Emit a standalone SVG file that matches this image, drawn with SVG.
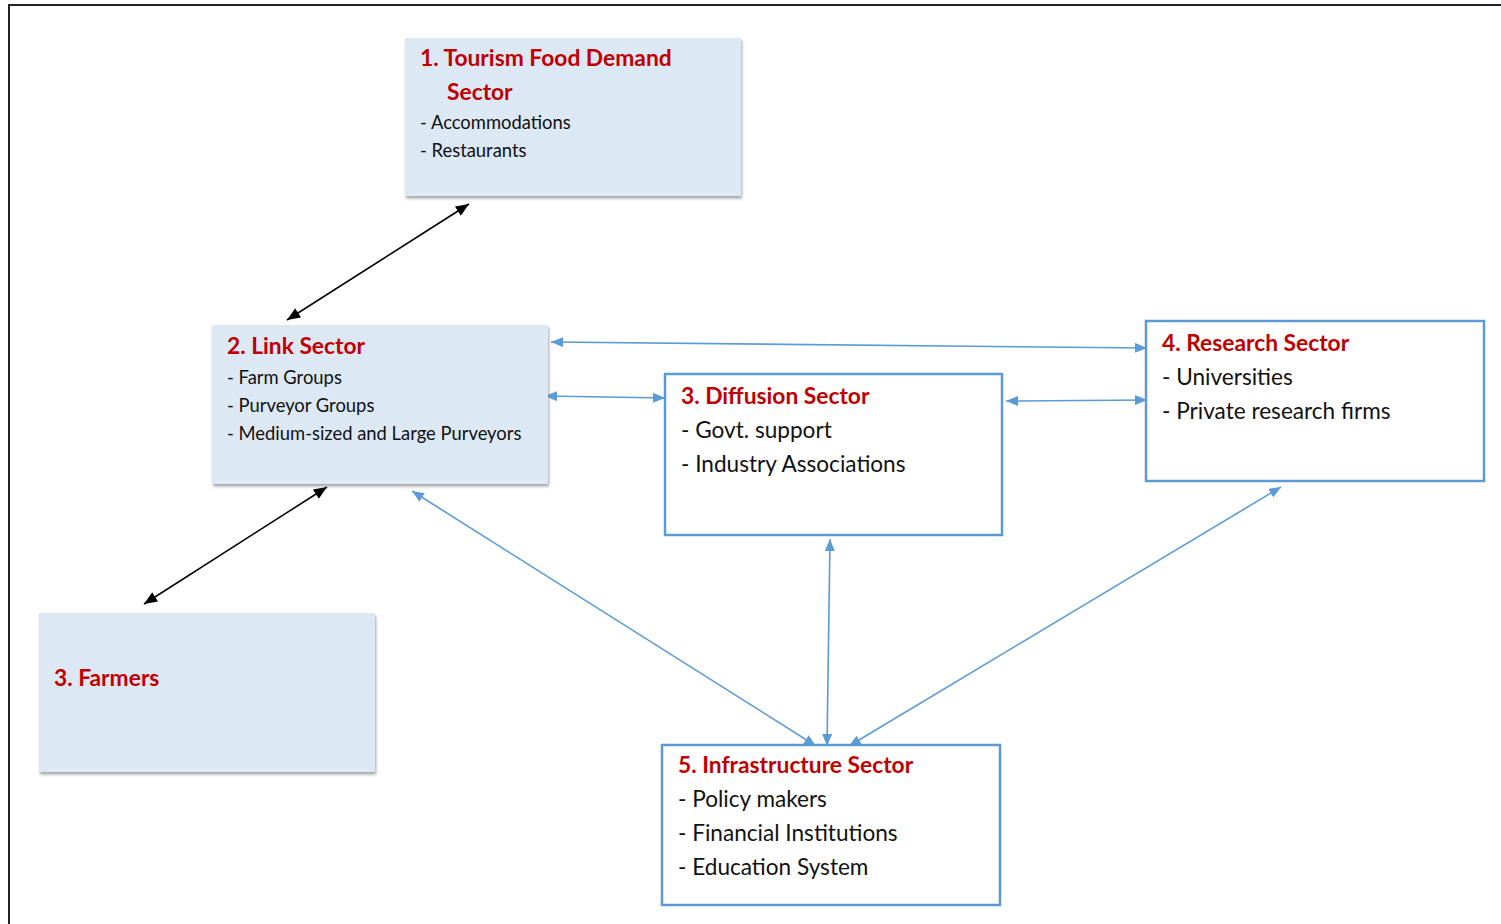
<svg xmlns="http://www.w3.org/2000/svg" width="1501" height="924" viewBox="0 0 1501 924">
  <defs>
    <filter id="shadow" x="-5%" y="-5%" width="110%" height="115%">
      <feDropShadow dx="1" dy="2.5" stdDeviation="1.5" flood-color="#7f7f7f" flood-opacity="0.7"/>
    </filter>
    <marker id="ahBlack" viewBox="0 0 12 10" refX="12" refY="5" markerWidth="14" markerHeight="11" markerUnits="userSpaceOnUse" orient="auto-start-reverse">
      <path d="M0,0 L12,5 L0,10 Z" fill="#000"/>
    </marker>
    <marker id="ahBlue" viewBox="0 0 12 10" refX="12" refY="5" markerWidth="12" markerHeight="10" markerUnits="userSpaceOnUse" orient="auto-start-reverse">
      <path d="M0,0 L12,5 L0,10 Z" fill="#5b9bd5"/>
    </marker>
    <style>
      .shaded { fill: #dde8f5; stroke: none; filter: url(#shadow); }
      .outlined { fill: #fff; stroke: #5b9bd5; stroke-width: 2.5; }
      .title { font-family: Lato, "Liberation Sans", sans-serif; font-weight: bold; fill: #c00000; font-size: 22.8px; }
      .small { font-family: Lato, "Liberation Sans", sans-serif; fill: #111; font-size: 18.4px; }
      .body { font-family: Lato, "Liberation Sans", sans-serif; fill: #111; font-size: 22.6px; }
      .black { stroke: #000; stroke-width: 1.6; fill: none; marker-start: url(#ahBlack); marker-end: url(#ahBlack); }
      .blue { stroke: #5b9bd5; stroke-width: 1.6; fill: none; marker-start: url(#ahBlue); marker-end: url(#ahBlue); }
    </style>
  </defs>

  <rect width="1501" height="924" fill="#fff"/>
  <!-- page frame -->
  <path d="M9,930 L9,5 L1510,5" fill="none" stroke="#222" stroke-width="2"/>

  <g id="connectors">
    <line class="black" x1="287" y1="320" x2="469" y2="204"/>
    <line class="black" x1="144" y1="604" x2="327" y2="487"/>
    <line class="blue" x1="551" y1="342" x2="1147" y2="348"/>
    <line class="blue" x1="545" y1="396" x2="665" y2="398"/>
    <line class="blue" x1="1006" y1="401" x2="1147" y2="400"/>
    <line class="blue" x1="830" y1="539" x2="827" y2="746"/>
    <line class="blue" x1="412" y1="491" x2="816" y2="746"/>
    <line class="blue" x1="1281" y1="487" x2="849" y2="746"/>
  </g>

  <g id="tourism">
    <rect class="shaded" x="405" y="38" width="336" height="158"/>
    <text class="title" x="420" y="66">1. Tourism Food Demand</text>
    <text class="title" x="447" y="100">Sector</text>
    <text class="small" x="420" y="129">- Accommodations</text>
    <text class="small" x="420" y="157">- Restaurants</text>
  </g>

  <g id="link">
    <rect class="shaded" x="212" y="325" width="336" height="159"/>
    <text class="title" x="227" y="354">2. Link Sector</text>
    <text class="small" x="227" y="384">- Farm Groups</text>
    <text class="small" x="227" y="412">- Purveyor Groups</text>
    <text class="small" x="227" y="440">- Medium-sized and Large Purveyors</text>
  </g>

  <g id="farmers">
    <rect class="shaded" x="39" y="613" width="336" height="159"/>
    <text class="title" x="54" y="686">3. Farmers</text>
  </g>

  <g id="diffusion">
    <rect class="outlined" x="665" y="374" width="337" height="161"/>
    <text class="title" x="681" y="404">3. Diffusion Sector</text>
    <text class="body" x="681" y="438">- Govt. support</text>
    <text class="body" x="681" y="472">- Industry Associations</text>
  </g>

  <g id="research">
    <rect class="outlined" x="1146" y="321" width="338" height="160"/>
    <text class="title" x="1162" y="351">4. Research Sector</text>
    <text class="body" x="1162" y="385">- Universities</text>
    <text class="body" x="1162" y="419">- Private research firms</text>
  </g>

  <g id="infrastructure">
    <rect class="outlined" x="662" y="745" width="338" height="160"/>
    <text class="title" x="678" y="773">5. Infrastructure Sector</text>
    <text class="body" x="678" y="807">- Policy makers</text>
    <text class="body" x="678" y="841">- Financial Institutions</text>
    <text class="body" x="678" y="875">- Education System</text>
  </g>
</svg>
